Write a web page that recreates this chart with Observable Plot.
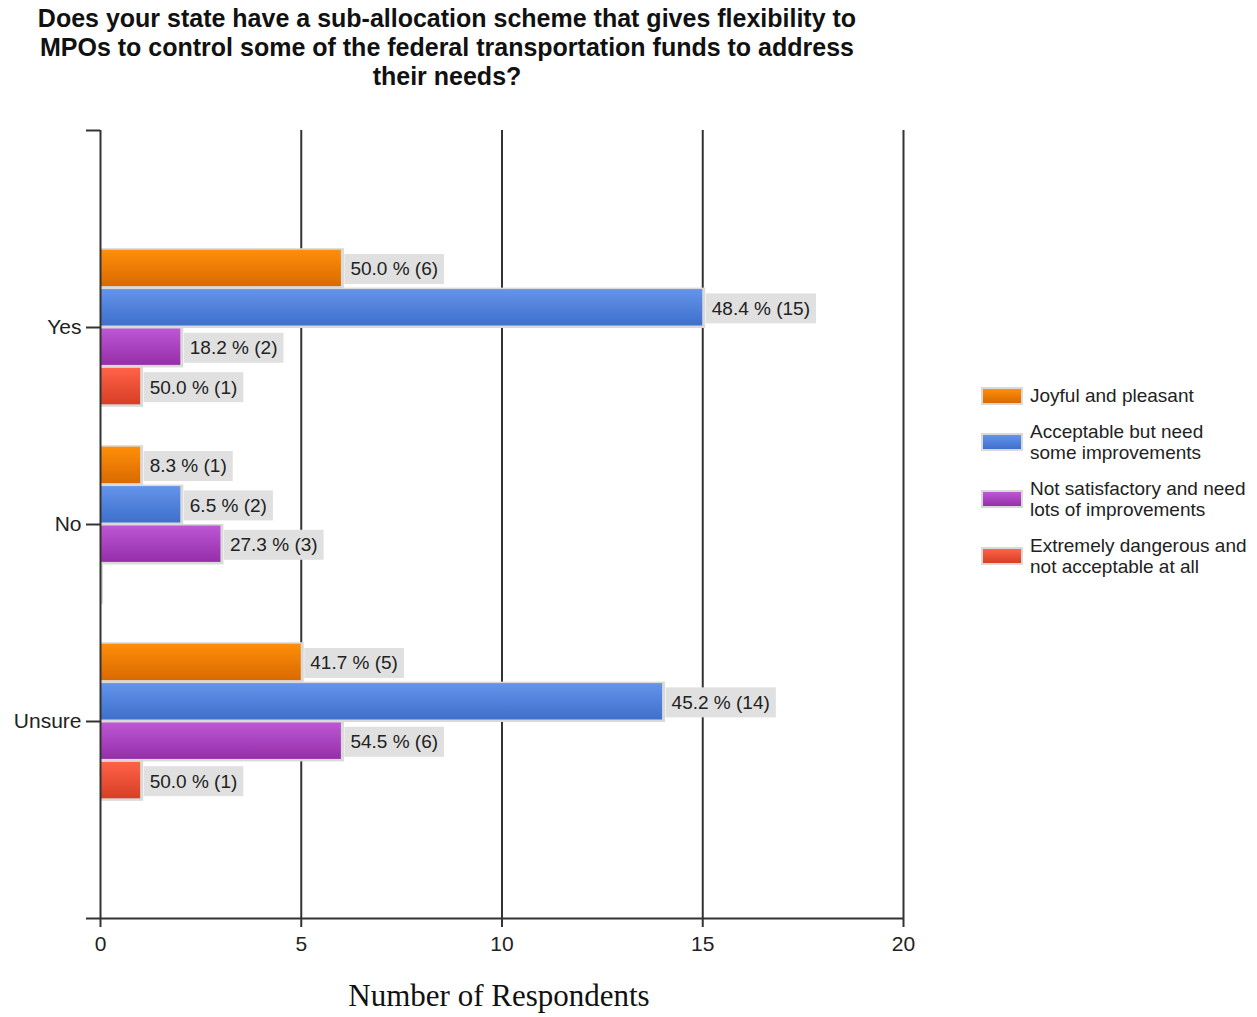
<!DOCTYPE html>
<html><head><meta charset="utf-8">
<script src="https://cdn.jsdelivr.net/npm/d3@7"></script>
<script src="https://cdn.jsdelivr.net/npm/@observablehq/plot@0.6"></script>
<style>
body{margin:0;background:#fff;}
#wrap{position:relative;width:1257px;height:1017px;font-family:"Liberation Sans",Arial,sans-serif;overflow:hidden;}
#title{position:absolute;left:0;top:4px;width:894px;text-align:center;font-weight:bold;font-size:25px;line-height:29px;color:#111;}
#chart{position:absolute;left:0;top:105px;}
#xtitle{position:absolute;left:0;width:998px;top:980px;text-align:center;font-family:"Liberation Serif","Times New Roman",serif;font-size:31px;line-height:32px;color:#111;}
#legend{position:absolute;left:981px;top:385px;font-size:19px;line-height:21px;color:#222;}
.item{display:flex;align-items:center;margin-bottom:15px;}
.sw{width:38px;height:14px;border:2px solid #d9d9d9;margin-right:7px;flex:none;}
#chart svg [aria-label^="x-axis"] line,#chart svg [aria-label^="x-axis"] path,
#chart svg [aria-label^="y-axis"] line,#chart svg [aria-label^="y-axis"] path{stroke-width:2px;stroke:#333;}
</style>
</head><body>
<div id="wrap">
  <div id="title">Does your state have a sub-allocation scheme that gives flexibility to<br>MPOs to control some of the federal transportation funds to address<br>their needs?</div>
  <div id="chart"></div>
  <div id="xtitle">Number of Respondents</div>
  <div id="legend"></div>
</div>
<svg width="0" height="0" style="position:absolute">
  <defs>
    <linearGradient id="gOrange" x1="0" y1="0" x2="0" y2="1"><stop offset="0" stop-color="#ff8e0a"/><stop offset="1" stop-color="#d96a00"/></linearGradient>
    <linearGradient id="gBlue" x1="0" y1="0" x2="0" y2="1"><stop offset="0" stop-color="#6494ea"/><stop offset="1" stop-color="#3e6fcc"/></linearGradient>
    <linearGradient id="gPurple" x1="0" y1="0" x2="0" y2="1"><stop offset="0" stop-color="#bd57d4"/><stop offset="1" stop-color="#962ea9"/></linearGradient>
    <linearGradient id="gRed" x1="0" y1="0" x2="0" y2="1"><stop offset="0" stop-color="#ff6247"/><stop offset="1" stop-color="#d63f26"/></linearGradient>
  </defs>
</svg>
<script>
const categories = ["Yes", "No", "Unsure"];
const seriesNames = [
  "Joyful and pleasant",
  "Acceptable but need some improvements",
  "Not satisfactory and need lots of improvements",
  "Extremely dangerous and not acceptable at all"
];
const legendLines = [
  ["Joyful and pleasant"],
  ["Acceptable but need", "some improvements"],
  ["Not satisfactory and need", "lots of improvements"],
  ["Extremely dangerous and", "not acceptable at all"]
];
const joyfulCounts = [6, 1, 5];
const acceptableCounts = [15, 2, 14];
const notSatisfactoryCounts = [2, 3, 6];
const dangerousCounts = [1, 0, 1];
const joyfulPct = [50.0, 8.3, 41.7];
const acceptablePct = [48.4, 6.5, 45.2];
const notSatisfactoryPct = [18.2, 27.3, 54.5];
const dangerousPct = [50.0, 0, 50.0];
const xTicks = [0, 5, 10, 15, 20];
const gradients = ["url(#gOrange)", "url(#gBlue)", "url(#gPurple)", "url(#gRed)"];
const legendCss = [
  "linear-gradient(#ff8e0a,#d96a00)", "linear-gradient(#6494ea,#3e6fcc)",
  "linear-gradient(#bd57d4,#962ea9)", "linear-gradient(#ff6247,#d63f26)"
];

const counts = [joyfulCounts, acceptableCounts, notSatisfactoryCounts, dangerousCounts];
const pcts = [joyfulPct, acceptablePct, notSatisfactoryPct, dangerousPct];
const nS = seriesNames.length;
const rows = [];
categories.forEach((c, i) => {
  counts.forEach((vals, j) => {
    const y1 = (i + 1) - 0.4 + 0.8 * j / nS;
    rows.push({category: c, series: seriesNames[j], s: j, value: vals[i], pct: pcts[j][i], y1, y2: y1 + 0.8 / nS, ym: y1 + 0.4 / nS});
  });
});

const marks = [
  Plot.ruleX(xTicks.slice(1), {stroke: "#333", strokeWidth: 2}),
  Plot.rectX(rows, {x1: 0, x2: "value", y1: "y1", y2: "y2", fill: "#d9d9d9", insetTop: 0, insetBottom: -1, insetLeft: 0, insetRight: -3})
];
seriesNames.forEach((name, j) => {
  marks.push(Plot.rectX(rows.filter(d => d.s === j), {x1: 0, x2: "value", y1: "y1", y2: "y2", fill: gradients[j], insetTop: 1.5, insetBottom: 1.5}));
});
marks.push(Plot.ruleX([0], {stroke: "#333", strokeWidth: 2}));
marks.push(Plot.ruleY([4], {stroke: "#333", strokeWidth: 2}));
marks.push(Plot.text(rows.filter(d => d.value > 0), {
  x: "value", y: "ym", text: d => `${d.pct.toFixed(1)} % (${d.value})`,
  textAnchor: "start", dx: 9, dy: 1, fontSize: 19, fill: "#222",
  fontFamily: "Liberation Sans, Arial, sans-serif"
}));

const chart = Plot.plot({
  width: 1257, height: 860,
  marginLeft: 100, marginRight: 354, marginTop: 25, marginBottom: 47,
  style: {fontSize: "21px", fontFamily: "Liberation Sans, Arial, sans-serif", color: "#222", background: "#fff"},
  x: {domain: [0, 20], ticks: xTicks, tickSize: 9, tickPadding: 9, label: null, line: false},
  y: {domain: [0, 4], reverse: true, ticks: [0, 1, 2, 3, 4], tickFormat: v => categories[v - 1] ?? "", tickSize: 14, tickPadding: 5, label: null},
  marks
});
document.getElementById("chart").appendChild(chart);

// gray label boxes behind value labels
d3.select(chart).selectAll('g[aria-label="text"] text').each(function() {
  const b = this.getBBox();
  const r = document.createElementNS("http://www.w3.org/2000/svg", "rect");
  r.setAttribute("x", b.x - 6);
  r.setAttribute("y", b.y + b.height / 2 - 15);
  r.setAttribute("width", b.width + 12);
  r.setAttribute("height", 30);
  r.setAttribute("fill", "#e0e0e0");
  r.setAttribute("stroke", "none");
  const t = this.getAttribute("transform");
  if (t) r.setAttribute("transform", t);
  this.parentNode.insertBefore(r, this);
});

const legend = d3.select("#legend");
seriesNames.forEach((name, j) => {
  const it = legend.append("div").attr("class", "item");
  it.append("div").attr("class", "sw").style("background", legendCss[j]);
  it.append("div").html(legendLines[j].join("<br>"));
});
</script>
</body></html>
